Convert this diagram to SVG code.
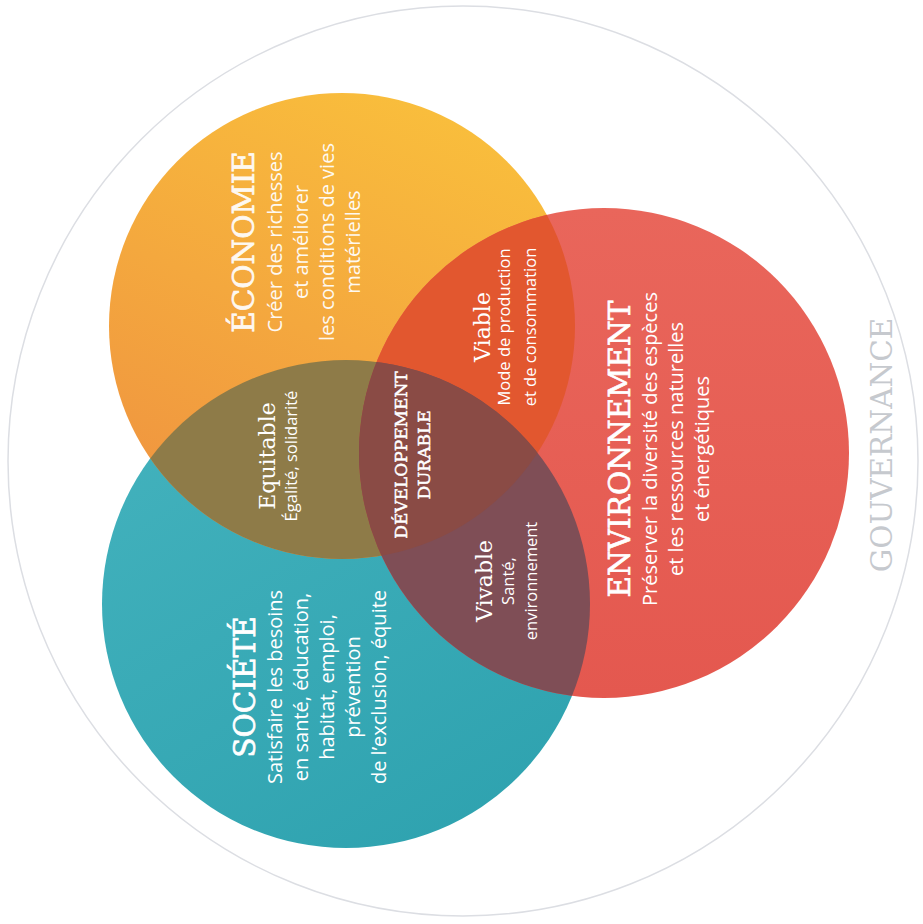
<svg xmlns="http://www.w3.org/2000/svg" width="923" height="924" viewBox="0 0 923 924">
  <defs>
    <linearGradient id="gradEco" x1="0.65" y1="0" x2="0.2" y2="1">
      <stop offset="0" stop-color="#F9BE3C"/>
      <stop offset="1" stop-color="#EF9240"/>
    </linearGradient>
    <linearGradient id="gradEnv" x1="0.5" y1="0" x2="0.5" y2="1">
      <stop offset="0" stop-color="#E9665B"/>
      <stop offset="1" stop-color="#E4584F"/>
    </linearGradient>
    <linearGradient id="gradSoc" x1="0.2" y1="0" x2="0.8" y2="1">
      <stop offset="0" stop-color="#43B2BD"/>
      <stop offset="1" stop-color="#2EA2AF"/>
    </linearGradient>
    <clipPath id="clipEco"><circle cx="342" cy="326" r="233"/></clipPath>
    <clipPath id="clipEnv"><circle cx="604" cy="453" r="245"/></clipPath>
    <clipPath id="clipSoc"><circle cx="346" cy="604" r="244"/></clipPath>
    <style>
      .title { font-family: "DejaVu Serif", "Liberation Serif", serif; fill: #FFFFFF; text-anchor: middle; }
      .heavy { stroke: #FFFFFF; stroke-width: 0.7; }
      .body { font-family: "Open Sans", "Noto Sans", "Liberation Sans", sans-serif; fill: #FFFFFF; text-anchor: middle; }
      .big { font-size: 29.5px; }
      .mid { font-size: 22px; }
      .txt { font-size: 20px; }
      .small { font-size: 16.5px; }
    </style>
  </defs>

  <rect width="923" height="924" fill="#FFFFFF"/>

  <!-- outer ring -->
  <g id="gouvernance">
    <circle cx="463" cy="461" r="455" fill="none" stroke="#DCDEE3" stroke-width="1.5"/>
    <g transform="translate(0,445) rotate(-90)">
      <text class="title big" y="892" style="fill:#C6C9CE">GOUVERNANCE</text>
    </g>
  </g>

  <!-- three pillars -->
  <g id="societe">
    <circle cx="346" cy="604" r="244" fill="url(#gradSoc)"/>
    <g transform="translate(0,687) rotate(-90)">
      <text class="title big heavy" y="255">SOCIÉTÉ</text>
      <text class="body txt" y="282">Satisfaire les besoins</text>
      <text class="body txt" y="308">en santé, éducation,</text>
      <text class="body txt" y="334">habitat, emploi,</text>
      <text class="body txt" y="360">prévention</text>
      <text class="body txt" y="386">de l’exclusion, équite</text>
    </g>
  </g>

  <g id="economie">
    <circle cx="342" cy="326" r="233" fill="url(#gradEco)"/>
    <g transform="translate(0,242) rotate(-90)" opacity="0.93">
      <text class="title big heavy" y="254">ÉCONOMIE</text>
      <text class="body txt" y="282">Créer des richesses</text>
      <text class="body txt" y="308">et améliorer</text>
      <text class="body txt" y="334">les conditions de vies</text>
      <text class="body txt" y="360">matérielles</text>
    </g>
  </g>

  <g id="environnement">
    <circle cx="604" cy="453" r="245" fill="url(#gradEnv)"/>
    <g transform="translate(0,449) rotate(-90)">
      <text class="title big heavy" y="630">ENVIRONNEMENT</text>
      <text class="body txt" y="657">Préserver la diversité des espèces</text>
      <text class="body txt" y="683">et les ressources naturelles</text>
      <text class="body txt" y="709">et énergétiques</text>
    </g>
  </g>

  <!-- pairwise overlaps -->
  <g id="equitable">
    <circle cx="346" cy="604" r="244" fill="#8E7B48" clip-path="url(#clipEco)"/>
    <g transform="translate(0,456) rotate(-90)">
      <text class="title mid" y="275">Equitable</text>
      <text class="body small" y="297">Égalité, solidarité</text>
    </g>
  </g>

  <g id="viable">
    <circle cx="604" cy="453" r="245" fill="#E2572F" clip-path="url(#clipEco)"/>
    <g transform="translate(0,327) rotate(-90)">
      <text class="title mid" y="490">Viable</text>
      <text class="body small" y="510">Mode de production</text>
      <text class="body small" y="536">et de consommation</text>
    </g>
  </g>

  <g id="vivable">
    <circle cx="604" cy="453" r="245" fill="#7F4E56" clip-path="url(#clipSoc)"/>
    <g transform="translate(0,581) rotate(-90)">
      <text class="title mid" y="492">Vivable</text>
      <text class="body small" y="514">Santé,</text>
      <text class="body small" y="537">environnement</text>
    </g>
  </g>

  <!-- centre: all three overlap -->
  <g id="developpement-durable">
    <g clip-path="url(#clipEco)">
      <circle cx="604" cy="453" r="245" fill="#8A4B45" clip-path="url(#clipSoc)"/>
    </g>
    <g transform="translate(0,455) rotate(-90)">
      <text class="title" y="407" style="font-size:17px;stroke:#FFFFFF;stroke-width:0.5">DÉVELOPPEMENT</text>
      <text class="title" y="430" style="font-size:17px;stroke:#FFFFFF;stroke-width:0.5">DURABLE</text>
    </g>
  </g>
</svg>
